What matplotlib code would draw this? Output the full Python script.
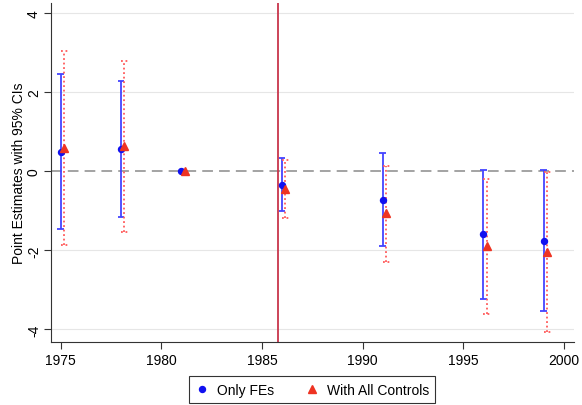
import matplotlib
matplotlib.use("Agg")
import matplotlib.pyplot as plt
import numpy as np

plt.rcParams['font.family'] = ['Liberation Sans', 'DejaVu Sans']

years = [1975, 1978, 1981, 1986, 1991, 1996, 1999]
fe_est = [0.49, 0.55, 0.0, -0.34, -0.73, -1.60, -1.76]
fe_lo = [-1.47, -1.17, 0.0, -1.00, -1.90, -3.23, -3.54]
fe_hi = [2.46, 2.28, 0.0, 0.33, 0.45, 0.03, 0.03]
ctrl_est = [0.59, 0.64, 0.0, -0.45, -1.06, -1.89, -2.04]
ctrl_lo = [-1.87, -1.53, 0.0, -1.19, -2.29, -3.60, -4.06]
ctrl_hi = [3.05, 2.78, 0.0, 0.27, 0.14, -0.20, -0.03]
has_ci = [True, True, False, True, True, True, True]
event_year = 1985.8
xticks = [1975, 1980, 1985, 1990, 1995, 2000]
yticks = [-4, -2, 0, 2, 4]

offset = 0.17
cap = 0.17
fs = 10

fig = plt.figure(figsize=(5.82, 4.06), dpi=100)
ax = fig.add_axes([0.087, 0.156, 0.899, 0.834])

for y in [-4, -2, 2, 4]:
    ax.axhline(y, color='#e6e6e6', lw=0.8, zorder=0)
ax.axhline(0, color='#8a8a8a', lw=1.1, ls=(0, (7, 4)), zorder=1)
ax.axvline(event_year, color='#c8354b', lw=1.3, zorder=2)

yrs = np.array(years, dtype=float)
fe_est_a = np.array(fe_est); fe_lo_a = np.array(fe_lo); fe_hi_a = np.array(fe_hi)
c_est_a = np.array(ctrl_est); c_lo_a = np.array(ctrl_lo); c_hi_a = np.array(ctrl_hi)
m = np.array(has_ci)

blue = '#4444ff'
red = '#ff5a5a'

# Blue CIs
ax.vlines(yrs[m], fe_lo_a[m], fe_hi_a[m], color=blue, lw=1.3, zorder=3)
ax.hlines(fe_lo_a[m], yrs[m] - cap, yrs[m] + cap, color=blue, lw=1.3, zorder=3)
ax.hlines(fe_hi_a[m], yrs[m] - cap, yrs[m] + cap, color=blue, lw=1.3, zorder=3)

# Red CIs (dotted)
xr = yrs + offset
ax.vlines(xr[m], c_lo_a[m], c_hi_a[m], color=red, lw=1.3, ls=(0, (1, 1.5)), zorder=3)
ax.hlines(c_lo_a[m], xr[m] - cap, xr[m] + cap, color=red, lw=1.3, ls=(0, (1, 1.5)), zorder=3)
ax.hlines(c_hi_a[m], xr[m] - cap, xr[m] + cap, color=red, lw=1.3, ls=(0, (1, 1.5)), zorder=3)

ax.plot(yrs, fe_est_a, 'o', color='#1010f0', ms=4.3, ls='none', zorder=5, label='Only FEs')
ax.plot(xr, c_est_a, '^', color='#ee3322', ms=5.8, ls='none', zorder=5, label='With All Controls')

ax.set_xlim(1974.5, 2000.5)
ax.set_ylim(-4.31, 4.25)
ax.set_xticks(xticks)
ax.set_yticks(yticks)
ax.set_yticklabels([str(v) for v in yticks], rotation=90, va='center')
ax.tick_params(axis='both', direction='out', length=5, width=0.8, labelsize=fs, color='#333333')
ax.tick_params(axis='y', pad=2)
ax.spines['top'].set_visible(False)
ax.spines['right'].set_visible(False)
ax.spines['left'].set_color('#333333')
ax.spines['bottom'].set_color('#333333')
ax.set_ylabel('Point Estimates with 95% CIs', fontsize=fs, labelpad=1)

leg = fig.legend(loc='center', bbox_to_anchor=(0.536, 0.038), ncol=2, frameon=True,
                 fancybox=False, edgecolor='black', fontsize=fs, handlelength=1.0,
                 handletextpad=0.6, columnspacing=2.2, borderpad=0.45)
leg.get_frame().set_linewidth(0.8)

fig.savefig('out.png', dpi=100)
